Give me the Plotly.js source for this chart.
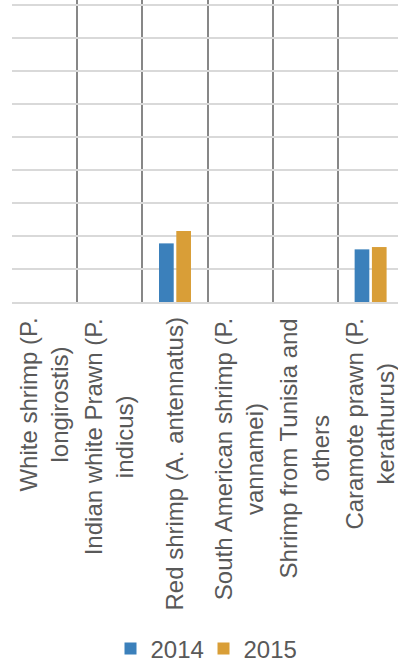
<!DOCTYPE html>
<html>
<head>
<meta charset="utf-8">
<script src="https://cdn.plot.ly/plotly-3.0.1.min.js"></script>
<style>
html,body{margin:0;padding:0;overflow:hidden;background:#fff;}
#chart{width:398px;height:664px;}
</style>
</head>
<body>
<div id="chart"></div>
<script>
var categories = [
  "White shrimp (P.<br>longirostis)",
  "Indian white Prawn (P.<br>indicus)",
  "Red shrimp (A. antennatus)",
  "South American shrimp (P.<br>vannamei)",
  "Shrimp from Tunisia and<br>others",
  "Caramote prawn (P.<br>kerathurus)"
];
var values2014 = [0, 0, 177.6, 0, 0, 159.5];
var values2015 = [0, 0, 214.8, 0, 0, 166.5];
var seriesNames = ["2014", "2015"];
var colors = ["#3B80BB", "#D99E37"];

var idx = categories.map(function(_, i){ return i; });
var font = 'Liberation Sans, Arial, sans-serif';

var traces = [
  {type:'bar', name:seriesNames[0], x:idx, y:values2014, marker:{color:colors[0]}, hoverinfo:'skip'},
  {type:'bar', name:seriesNames[1], x:idx, y:values2015, marker:{color:colors[1]}, hoverinfo:'skip'}
];

var annotations = categories.map(function(c, i){
  return {
    x: i, xref:'x', y: 0, yref:'paper',
    yanchor:'top', xanchor:'center', yshift:-14, xshift:-1,
    text: c, textangle:-90, align:'center', showarrow:false,
    font:{family:font, size:24, color:'#595959'}
  };
});

var layout = {
  width:398, height:664,
  margin:{l:12, r:0, t:0, b:362, pad:0, autoexpand:false},
  paper_bgcolor:'#ffffff', plot_bgcolor:'#ffffff',
  barmode:'group', bargap:0.47, bargroupgap:0.15,
  showlegend:true,
  font:{family:font, color:'#595959'},
  xaxis:{
    type:'linear', range:[-0.5, 5.42], tickmode:'linear', tick0:-0.5, dtick:1,
    showticklabels:false, ticks:'', showgrid:true, gridcolor:'#878787', gridwidth:2,
    zeroline:false, showline:true, linecolor:'#D9D9D9', linewidth:2,
    fixedrange:true
  },
  yaxis:{
    range:[0, 915], tickmode:'linear', tick0:0, dtick:100, showticklabels:false, ticks:'',
    showgrid:true, gridcolor:'#D9D9D9', gridwidth:2,
    zeroline:false, showline:false, fixedrange:true
  },
  legend:{
    orientation:'h', xref:'paper', yref:'paper',
    x:0.2552, xanchor:'left', y:-1.149, yanchor:'middle',
    font:{family:font, size:24, color:'#595959'},
    itemwidth:30, entrywidth:48, traceorder:'normal'
  },
  annotations: annotations
};

Plotly.newPlot('chart', traces, layout, {displayModeBar:false, staticPlot:true});
</script>
</body>
</html>
